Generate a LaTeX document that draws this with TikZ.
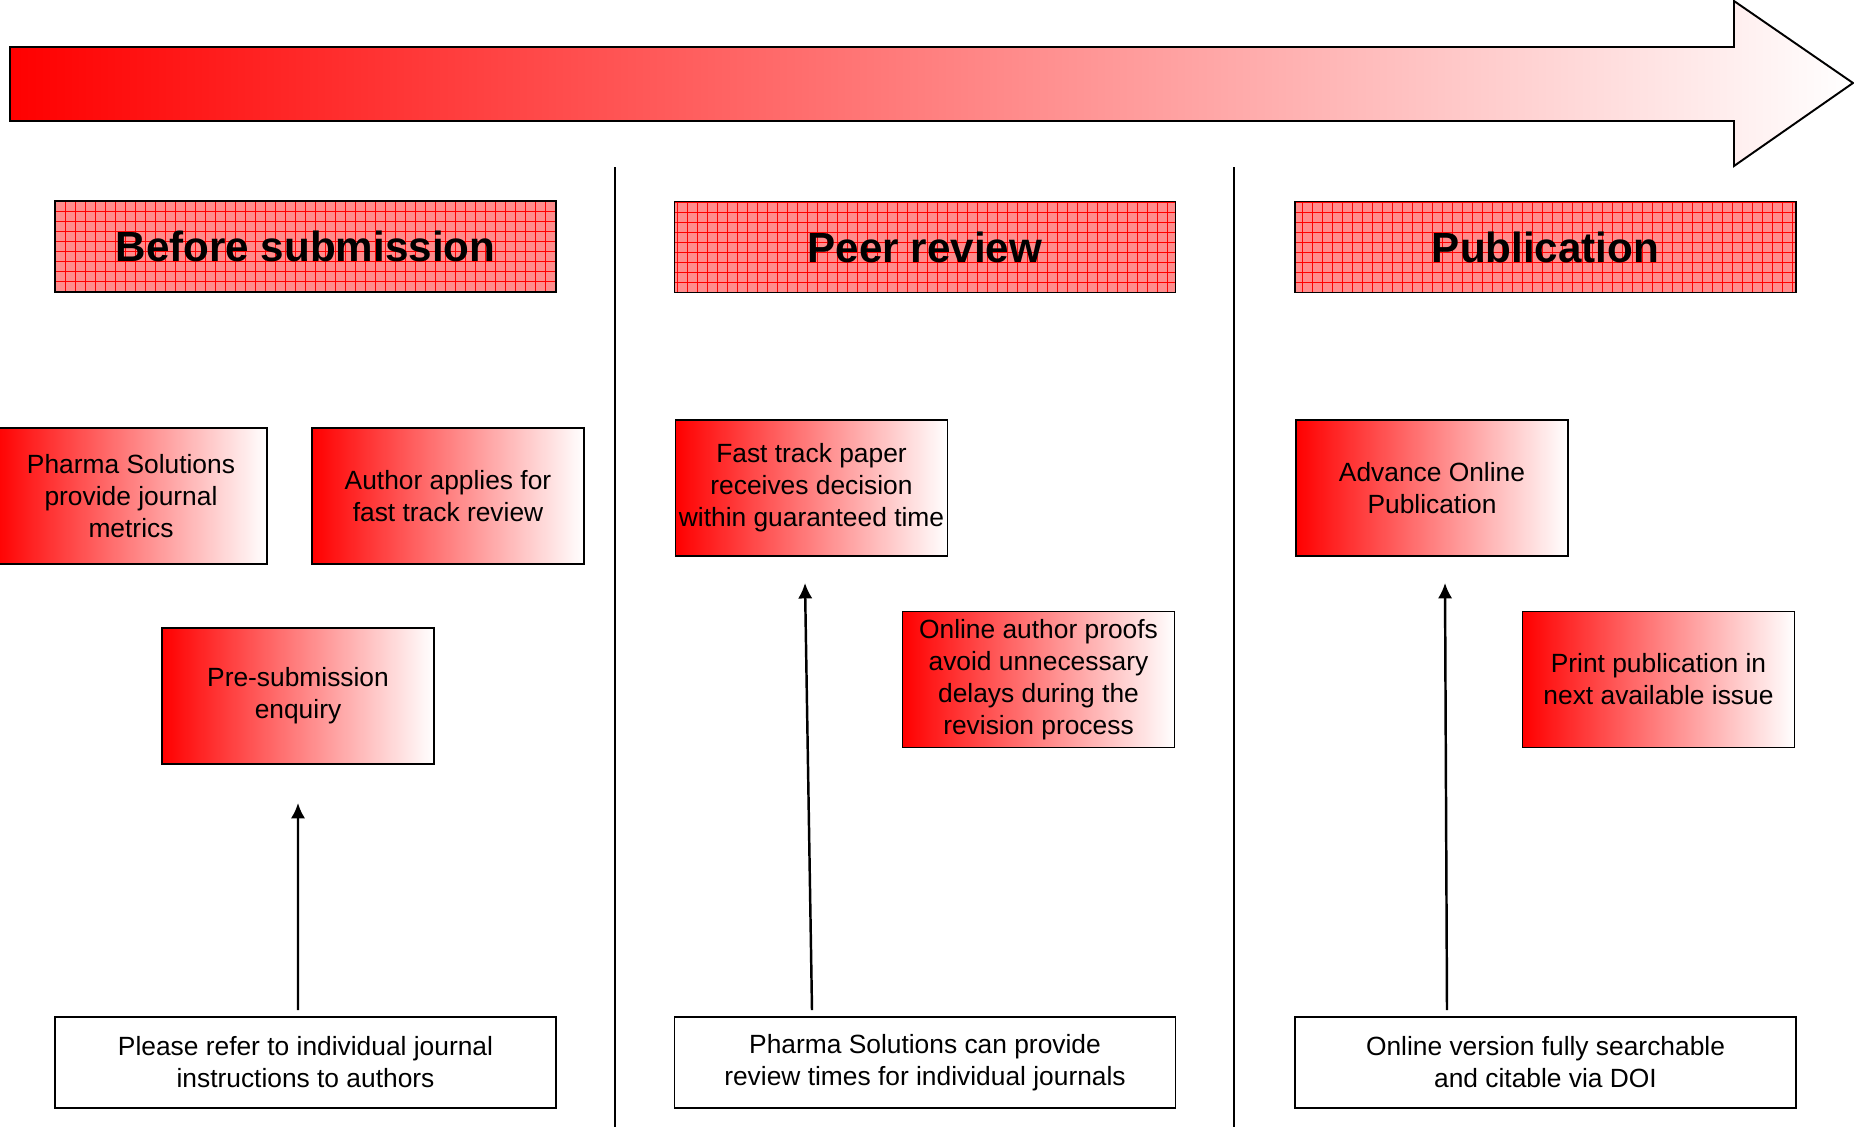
\documentclass[tikz,border=0pt]{standalone}
\usepackage{fontspec}
\setmainfont{Liberation Sans}
\usetikzlibrary{positioning,arrows.meta}

\begin{document}
\begin{tikzpicture}[x=0.2mm,y=-0.2mm,
  stage/.style={draw,line width=1.1pt,fill=red!45,minimum width=100.2mm,minimum height=18.2mm,inner sep=0pt,
    font=\fontsize{24}{28}\selectfont\bfseries,
    path picture={\draw[red,line width=0.4pt] (path picture bounding box.south west) grid[step=2mm] (path picture bounding box.north east);}},
  stepbox/.style={draw,line width=1.1pt,left color=red,right color=white,minimum width=54.4mm,minimum height=27.2mm,
    inner sep=0pt,align=center,font=\fontsize{15}{18.2}\selectfont},
  note/.style={draw,line width=1.1pt,fill=white,minimum width=100.2mm,minimum height=18.2mm,inner sep=0pt,
    align=center,font=\fontsize{15}{18.2}\selectfont},
  link/.style={line width=1.4pt,-{Latex[length=8.8pt,width=8.2pt]}}]
\useasboundingbox (0,0) rectangle (1854,1127);

% time line
\draw[line width=1.1pt,left color=red,right color=white] (10,47) -- (1734,47) -- (1734,1) -- (1853,83) -- (1734,166) -- (1734,121) -- (10,121) -- cycle;

% columns
\draw[line width=0.9pt] (615,167) -- (615,1127);
\draw[line width=0.9pt] (1234,167) -- (1234,1127);

% headers
\node[stage] (before) at (305.5,246.5) {Before submission};
\node[stage] (peer) at (925,247) {Peer review};
\node[stage] (pub) at (1545.5,247) {Publication};

% steps
\node[stepbox] (metrics) at (131,496) {Pharma Solutions\\provide journal\\metrics};
\node[stepbox] (fast) at (448,496) {Author applies for\\fast track review};
\node[stepbox] (enquiry) at (298,696) {Pre-submission\\enquiry};
\node[stepbox] (decision) at (811.5,488) {Fast track paper\\receives decision\\within guaranteed time};
\node[stepbox] (proofs) at (1038.5,679.5) {Online author proofs\\avoid unnecessary\\delays during the\\revision process};
\node[stepbox] (aop) at (1432,488) {Advance Online\\Publication};
\node[stepbox] (print) at (1658.5,679.5) {Print publication in\\next available issue};

% notes
\node[note] (instr) at (305.5,1062.5) {Please refer to individual journal\\instructions to authors};
\node[note] (times) at (925,1062.5) {Pharma Solutions can provide\\review times for individual journals};
\node[note] (doi) at (1545.5,1062.5) {Online version fully searchable\\and citable via DOI};

\draw[link] ([xshift=-1.5mm,yshift=1.2mm]instr.north) -- ([yshift=-7.6mm]enquiry.south);
\draw[link] ([xshift=-22.6mm,yshift=1.2mm]times.north) -- ([xshift=-1.3mm,yshift=-5.2mm]decision.south);
\draw[link] ([xshift=-19.7mm,yshift=1.2mm]doi.north) -- ([xshift=2.6mm,yshift=-5.2mm]aop.south);
\end{tikzpicture}
\end{document}
